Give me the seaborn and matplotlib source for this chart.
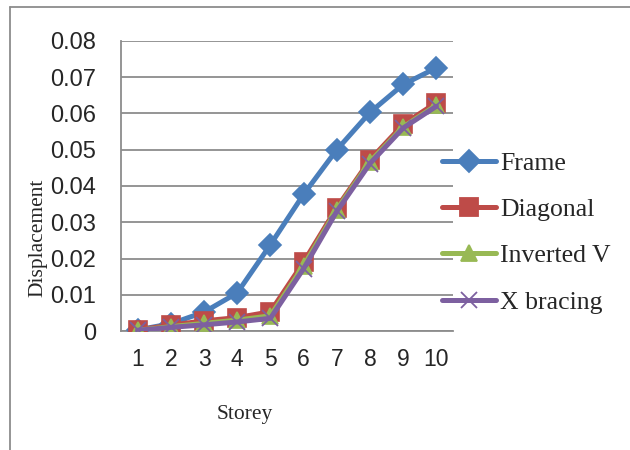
import matplotlib
matplotlib.use("Agg")
import matplotlib.pyplot as plt
from matplotlib.lines import Line2D
import seaborn as sns
import pandas as pd

storeys = [1, 2, 3, 4, 5, 6, 7, 8, 9, 10]
frame = [0.0003, 0.0020, 0.0052, 0.0105, 0.0238, 0.0377, 0.0500, 0.0603, 0.0680, 0.0726]
diagonal = [0.0003, 0.0016, 0.0028, 0.0037, 0.0053, 0.0190, 0.0340, 0.0472, 0.0570, 0.0630]
inverted_v = [0.0002, 0.0012, 0.0021, 0.0030, 0.0042, 0.0180, 0.0335, 0.0467, 0.0563, 0.0623]
x_bracing = [0.0002, 0.0010, 0.0017, 0.0025, 0.0035, 0.0172, 0.0330, 0.0462, 0.0560, 0.0620]
series_names = ["Frame", "Diagonal", "Inverted V", "X bracing"]
y_ticks = [0, 0.01, 0.02, 0.03, 0.04, 0.05, 0.06, 0.07, 0.08]

df = pd.DataFrame({"Storey": storeys * 4,
                   "Displacement": frame + diagonal + inverted_v + x_bracing,
                   "Series": sum([[n] * len(storeys) for n in series_names], [])})

sns.set_style("white")
colors = {"Frame": "#4A7EBB", "Diagonal": "#BE4B48", "Inverted V": "#98B954", "X bracing": "#7D60A0"}
markers = {"Frame": "D", "Diagonal": "s", "Inverted V": "^", "X bracing": "x"}
msizes = {"Frame": 11.5, "Diagonal": 13, "Inverted V": 12, "X bracing": 11}

fig = plt.figure(figsize=(6.3, 4.5), dpi=100)
ax = fig.add_axes([121 / 630, 1 - 331 / 450, 332 / 630, 290 / 450])

for i, name in enumerate(series_names):
    sub = df[df["Series"] == name]
    sns.lineplot(data=sub, x="Storey", y="Displacement", ax=ax, color=colors[name],
                 linewidth=3.6, marker=markers[name], markersize=msizes[name],
                 markeredgecolor=colors[name], markeredgewidth=1.2 if name != "X bracing" else 1.3,
                 zorder=3 + i, legend=False)

ax.set_xlim(0.5, 10.5)
ax.set_ylim(0, 0.08)
ax.set_yticks(y_ticks)
ax.set_yticklabels(["0"] + [f"{v:.2f}" for v in y_ticks[1:]],
                   fontfamily="Liberation Sans", fontsize=17)
ax.set_xticks([k + 0.5 for k in range(0, 11)])
ax.set_xticklabels([])
ax.set_xticks(storeys, minor=True)
ax.set_xticklabels([str(s) for s in storeys], minor=True,
                   fontfamily="Liberation Sans", fontsize=16.5)
ax.tick_params(axis="x", which="minor", length=0, pad=12)
ax.tick_params(axis="x", which="major", length=6, width=1.2, color="#8C8C8C", direction="out")
ax.tick_params(axis="y", length=7, width=1.2, color="#8C8C8C", direction="out", pad=11)
ax.grid(axis="y", color="#8C8C8C", linewidth=1.3)
ax.set_axisbelow(True)
for s in ["top", "right"]:
    ax.spines[s].set_visible(False)
for s in ["left", "bottom"]:
    ax.spines[s].set_color("#8C8C8C")
    ax.spines[s].set_linewidth(1.3)
ax.set_xlabel("")
ax.set_ylabel("")

fig.text(245 / 630, 1 - 415 / 450, "Storey", fontfamily="Liberation Serif",
         fontsize=15.5, ha="center", va="center")
fig.text(38 / 630, 1 - 238 / 450, "Displacement", fontfamily="Liberation Serif",
         fontsize=15.5, ha="center", va="center", rotation=90)

handles = [Line2D([], [], color=colors[n], linewidth=3.6, marker=markers[n],
                  markersize=msizes[n], markeredgecolor=colors[n],
                  markeredgewidth=1.3) for n in series_names]
fig.legend(handles, series_names, loc="upper left",
           bbox_to_anchor=(432 / 630, 1 - 142 / 450), frameon=False,
           prop={"family": "Liberation Serif", "size": 18.5},
           handlelength=2.1, handletextpad=0.15, labelspacing=0.9, borderaxespad=0)

# chart-area border (left and top edges)
fig.add_artist(Line2D([10 / 630, 10 / 630], [0, 1 - 7 / 450], color="#8C8C8C", linewidth=1.3,
                      transform=fig.transFigure))
fig.add_artist(Line2D([10 / 630, 1], [1 - 7 / 450, 1 - 7 / 450], color="#8C8C8C", linewidth=1.3,
                      transform=fig.transFigure))

fig.savefig("out.png", dpi=100)
